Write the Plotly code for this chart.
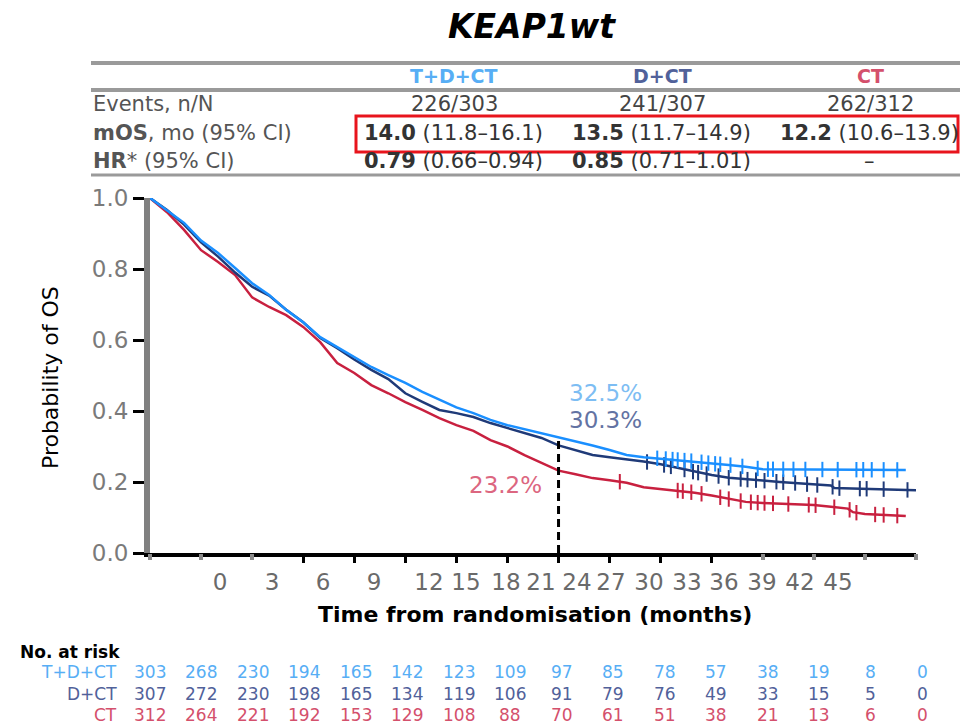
import numpy as np
import plotly.graph_objects as go

# ---------------- data ----------------
arms = ["T+D+CT", "D+CT", "CT"]

t_tdct = [0, 1, 2, 3, 4, 5, 6, 7, 8, 9, 10, 11, 12, 13, 14, 15, 16, 17, 18, 19, 20, 21, 22, 23, 24,
          25, 26, 27, 28, 29, 30, 31, 32, 33, 34, 35, 36, 44.4]
s_tdct = [1.0, 0.966, 0.93, 0.88, 0.845, 0.803, 0.76, 0.727, 0.685, 0.65, 0.608, 0.58, 0.552, 0.524,
          0.501, 0.479, 0.454, 0.431, 0.41, 0.394, 0.375, 0.36, 0.349, 0.338, 0.325,
          0.315, 0.303, 0.29, 0.276, 0.27, 0.266, 0.262, 0.258, 0.252, 0.248, 0.243, 0.236, 0.234]

t_dct = [0, 1, 2, 3, 4, 5, 6, 7, 8, 9, 10, 11, 12, 13, 14, 15, 16, 17, 18, 19, 20, 21, 22, 23, 24,
         25, 26, 27, 28, 29, 30, 31, 32, 33, 34, 35, 36, 37, 38, 39, 40, 40.2, 43, 45]
s_dct = [1.0, 0.966, 0.925, 0.875, 0.835, 0.79, 0.75, 0.725, 0.685, 0.65, 0.606, 0.577, 0.545, 0.516,
         0.49, 0.45, 0.426, 0.403, 0.394, 0.383, 0.366, 0.352, 0.338, 0.324, 0.303,
         0.29, 0.276, 0.27, 0.265, 0.258, 0.25, 0.24, 0.228, 0.22, 0.212, 0.207, 0.204, 0.2, 0.197,
         0.192, 0.19, 0.183, 0.18, 0.177]

t_ct = [0, 1, 2, 3, 4, 5, 6, 7, 8, 9, 10, 11, 12, 13, 14, 15, 16, 17, 18, 19, 20, 21, 22, 23, 24,
        25, 26, 27, 28, 29, 30, 31, 32, 33, 34, 35, 36, 37, 38, 39, 40, 41, 41.3, 42, 44.4]
s_ct = [1.0, 0.96, 0.91, 0.853, 0.82, 0.783, 0.72, 0.693, 0.67, 0.637, 0.594, 0.535, 0.507, 0.473,
        0.45, 0.425, 0.403, 0.38, 0.36, 0.344, 0.318, 0.30, 0.276, 0.253, 0.232,
        0.222, 0.211, 0.205, 0.198, 0.185, 0.18, 0.176, 0.17, 0.162, 0.152, 0.144, 0.141, 0.139,
        0.137, 0.135, 0.13, 0.125, 0.115, 0.11, 0.104]

cens_tdct = [29.8, 30.3, 30.7, 31.0, 31.4, 31.8, 32.4, 32.8, 33.2, 33.5, 34.1, 34.8, 35.7, 36.3,
             36.6, 37.2, 37.8, 38.5, 39.5, 40.4, 41.5, 41.9, 42.4, 43.1, 43.9]
cens_dct = [29.2, 30.2, 30.6, 31.4, 31.9, 32.2, 32.7, 33.4, 34.0, 34.7, 35.1, 35.6, 36.1, 36.8,
            37.2, 37.9, 38.6, 39.2, 40.1, 40.5, 41.7, 42.1, 43.1, 44.5]
cens_ct = [27.6, 31.0, 31.3, 31.8, 32.4, 33.5, 34.0, 34.7, 35.3, 35.7, 36.1, 36.6, 37.5, 38.7,
           39.1, 40.2, 41.1, 41.5, 42.6, 43.1, 43.9]

risk_times = [0, 3, 6, 9, 12, 15, 18, 21, 24, 27, 30, 33, 36, 39, 42, 45]
risk_tdct = [303, 268, 230, 194, 165, 142, 123, 109, 97, 85, 78, 57, 38, 19, 8, 0]
risk_dct = [307, 272, 230, 198, 165, 134, 119, 106, 91, 79, 76, 49, 33, 15, 5, 0]
risk_ct = [312, 264, 221, 192, 153, 129, 108, 88, 70, 61, 51, 38, 21, 13, 6, 0]

landmark_t = 24
landmark_pct = ["32.5%", "30.3%", "23.2%"]

events = ["226/303", "241/307", "262/312"]
mos_med = ["14.0", "13.5", "12.2"]
mos_ci = ["(11.8–16.1)", "(11.7–14.9)", "(10.6–13.9)"]
hr_val = ["0.79", "0.85", ""]
hr_ci = ["(0.66–0.94)", "(0.71–1.01)", "–"]

tick_vals = [0, 3, 6, 9, 12, 15, 18, 21, 24, 27, 30, 33, 36, 39, 42, 45]
tick_text = [str(v) for v in tick_vals]

# ---------------- style ----------------
FONT = "DejaVu Sans"
C_LINE = ["#1a8fff", "#1f3a78", "#c8203f"]
C_TEXT = ["#57aef5", "#51619a", "#d4506c"]
C_PCT = ["#7dbdf3", "#6373a3", "#dc6680"]

L, R, T, B = 150, 44, 198, 175
W, H = 960, 728
PW, PH = W - L - R, H - T - B
XMAX = 45


def px_x(px):
    return (px - L) / PW


def px_y(py):
    return (H - B - py) / PH


def px_t(px):
    return (px - L) / PW * XMAX


# tick labels sit displaced from the tick marks in the reference
tick_label_px = [220, 272, 323, 374, 429, 466, 506, 541, 577, 611, 649, 687, 724, 762, 800, 838]
tick_label_pos = [px_t(p) for p in tick_label_px]
gray_ticks = [0, 3, 6, 36, 39, 42, 45]
black_ticks = [9, 12, 15, 18, 21, 24, 27, 30, 33]
RISK_SPAN = 772  # pixel span of the at-risk columns (slightly wider than the axis)

fig = go.Figure()
curves = [(t_ct, s_ct, cens_ct, 2), (t_dct, s_dct, cens_dct, 1), (t_tdct, s_tdct, cens_tdct, 0)]
for tt, ss, cc, i in curves:
    fig.add_trace(go.Scatter(x=tt, y=ss, mode="lines", line=dict(color=C_LINE[i], width=2.5),
                             name=arms[i], cliponaxis=False, showlegend=False))
    fig.add_trace(go.Scatter(x=cc, y=np.interp(cc, tt, ss), mode="markers",
                             marker=dict(symbol="line-ns", size=11,
                                         line=dict(color=C_LINE[i], width=2)),
                             cliponaxis=False, showlegend=False, hoverinfo="skip"))

fig.add_trace(go.Scatter(x=[], y=[], xaxis="x2", showlegend=False))
fig.add_trace(go.Scatter(x=[], y=[], xaxis="x3", showlegend=False))

fig.add_shape(type="line", xref="x", yref="y", x0=landmark_t, x1=landmark_t, y0=0, y1=0.32,
              line=dict(color="black", width=3, dash="8px,5px"))

ann = []
# landmark labels
pct_pos = [(605, 393), (605, 420), (505, 485)]
for i in range(3):
    ann.append(dict(xref="paper", yref="paper", x=px_x(pct_pos[i][0]), y=px_y(pct_pos[i][1]),
                    text=landmark_pct[i], showarrow=False, xanchor="center", yanchor="middle",
                    font=dict(family=FONT, size=23, color=C_PCT[i])))

# title
ann.append(dict(xref="paper", yref="paper", x=px_x(532), y=px_y(26), text="<b><i>KEAP1wt</i></b>",
                showarrow=False, xanchor="center", yanchor="middle",
                font=dict(family=FONT, size=33, color="black")))

# table
col_x = [454, 662, 870]
for i in range(3):
    ann.append(dict(xref="paper", yref="paper", x=px_x(col_x[i]), y=px_y(76), text="<b>%s</b>" % arms[i],
                    showarrow=False, xanchor="center", yanchor="middle",
                    font=dict(family=FONT, size=19, color=C_TEXT[i])))
    ann.append(dict(xref="paper", yref="paper", x=px_x(col_x[i]), y=px_y(104), text=events[i],
                    showarrow=False, xanchor="center", yanchor="middle",
                    font=dict(family=FONT, size=21, color="#444444")))
    ann.append(dict(xref="paper", yref="paper", x=px_x(col_x[i] - 1), y=px_y(133),
                    text="<b>%s</b> %s" % (mos_med[i], mos_ci[i]),
                    showarrow=False, xanchor="center", yanchor="middle",
                    font=dict(family=FONT, size=21, color="#333333")))
    hr_txt = ("<b>%s</b> %s" % (hr_val[i], hr_ci[i])) if hr_val[i] else hr_ci[i]
    ann.append(dict(xref="paper", yref="paper", x=px_x(col_x[i] - 1), y=px_y(161), text=hr_txt,
                    showarrow=False, xanchor="center", yanchor="middle",
                    font=dict(family=FONT, size=21, color="#333333")))

row_labels = [("Events, n/N", 104), ("<b>mOS</b>, mo (95% CI)", 133), ("<b>HR</b>* (95% CI)", 161)]
for txt, py in row_labels:
    ann.append(dict(xref="paper", yref="paper", x=px_x(91), y=px_y(py), text=txt, showarrow=False,
                    xanchor="left", yanchor="middle", font=dict(family=FONT, size=21, color="#555555")))

# axis titles
ann.append(dict(xref="paper", yref="paper", x=px_x(535), y=px_y(614),
                text="<b>Time from randomisation (months)</b>", showarrow=False,
                xanchor="center", yanchor="middle", font=dict(family=FONT, size=22, color="black")))
ann.append(dict(xref="paper", yref="paper", x=px_x(50), y=px_y(377), text="Probability of OS",
                textangle=-90, showarrow=False, xanchor="center", yanchor="middle",
                font=dict(family=FONT, size=22, color="black")))

# risk table
ann.append(dict(xref="paper", yref="paper", x=px_x(18), y=px_y(652), text="<b>No. at risk</b>",
                showarrow=False, xanchor="left", yanchor="middle",
                font=dict(family=FONT, size=17, color="black")))
risk_rows = [(risk_tdct, 672), (risk_dct, 694), (risk_ct, 715)]
for i, (vals, py) in enumerate(risk_rows):
    ann.append(dict(xref="paper", yref="paper", x=px_x(119), y=px_y(py), text=arms[i],
                    showarrow=False, xanchor="right", yanchor="middle",
                    font=dict(family=FONT, size=17, color=C_TEXT[i])))
    for tv, v in zip(risk_times, vals):
        ann.append(dict(xref="paper", yref="paper", x=px_x(L + tv / XMAX * RISK_SPAN), y=px_y(py),
                        text=str(v), showarrow=False, xanchor="center", yanchor="middle",
                        font=dict(family=FONT, size=17, color=C_TEXT[i])))

shapes = [
    dict(type="line", xref="paper", yref="paper", x0=px_x(91), x1=px_x(960), y0=px_y(63), y1=px_y(63),
         line=dict(color="#9a9a9a", width=4)),
    dict(type="line", xref="paper", yref="paper", x0=px_x(91), x1=px_x(960), y0=px_y(90), y1=px_y(90),
         line=dict(color="#9a9a9a", width=4)),
    dict(type="line", xref="paper", yref="paper", x0=px_x(91), x1=px_x(960), y0=px_y(175), y1=px_y(175),
         line=dict(color="#9a9a9a", width=3)),
    dict(type="rect", xref="paper", yref="paper", x0=px_x(356), x1=px_x(958), y0=px_y(116), y1=px_y(152),
         line=dict(color="#e8141c", width=3)),
]
for s in shapes:
    fig.add_shape(**s)

fig.update_layout(
    width=W, height=H, margin=dict(l=L, r=R, t=T, b=B, autoexpand=False),
    plot_bgcolor="white", paper_bgcolor="white", showlegend=False,
    annotations=ann,
    xaxis=dict(range=[0, XMAX], showgrid=False, zeroline=False, showline=True, linecolor="black",
               linewidth=4, ticks="outside", tickvals=black_ticks, ticklen=6, tickwidth=3,
               tickcolor="black", showticklabels=False),
    xaxis2=dict(range=[0, XMAX], overlaying="x", anchor="y", side="bottom", showgrid=False,
                zeroline=False, showline=False, ticks="outside", tickvals=gray_ticks, ticklen=6,
                tickwidth=4, tickcolor="#8a8a8a", showticklabels=False),
    xaxis3=dict(range=[0, XMAX], overlaying="x", anchor="y", side="bottom", showgrid=False,
                zeroline=False, showline=False, ticks="outside", tickvals=tick_label_pos,
                ticktext=tick_text, ticklen=8, tickcolor="rgba(0,0,0,0)",
                tickfont=dict(family=FONT, size=23, color="#6a6a6a")),
    yaxis=dict(range=[0, 1.0], showgrid=False, zeroline=False, showline=True, linecolor="#808080",
               linewidth=6, ticks="outside", tickvals=[0, 0.2, 0.4, 0.6, 0.8, 1.0], ticklen=11,
               tickwidth=2.5, tickcolor="black", tickformat=".1f",
               tickfont=dict(family=FONT, size=23, color="#7a7a7a")),
)

fig.write_html("out.html")
